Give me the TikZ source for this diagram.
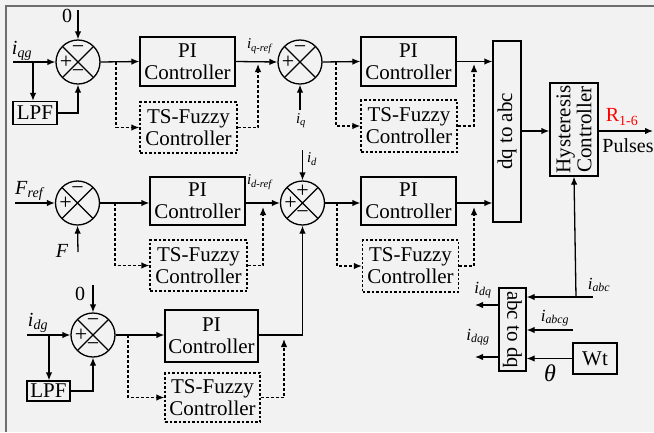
\documentclass[tikz,border=0pt]{standalone}
\usepackage{fontspec}
\setmainfont{Liberation Serif}
\usetikzlibrary{arrows.meta}
\definecolor{bgc}{HTML}{F2F2F2}
\definecolor{frm}{HTML}{6E6E6E}
\newcommand{\isym}[2]{\textit{#1}\textsubscript{\textit{#2}}}
\begin{document}
\begin{tikzpicture}[x=1pt,y=-1pt,
  line width=1.3pt,
  >={Latex[length=8pt,width=6.5pt]},
  blk/.style={draw, minimum width=95pt, minimum height=49pt, align=center,
    font=\fontsize{21}{22}\selectfont, inner sep=0pt},
  fzbox/.style={blk, dash pattern=on 2.5pt off 2pt},
  dsh/.style={dash pattern=on 3pt off 2pt},
  sumnode/.style={circle, draw, minimum size=44pt, inner sep=0pt,
    path picture={\draw (path picture bounding box.north west) -- (path picture bounding box.south east)
      (path picture bounding box.north east) -- (path picture bounding box.south west);}},
  sg/.style={font=\fontsize{22}{22}\selectfont, inner sep=0pt},
  lbl/.style={font=\fontsize{20}{20}\selectfont, inner sep=0pt},
  slbl/.style={font=\fontsize{15}{16}\selectfont, inner sep=0pt},
  mlbl/.style={font=\fontsize{17}{18}\selectfont, inner sep=0pt}
]
\useasboundingbox (0,0) rectangle (654,432);
\fill[bgc] (0,0) rectangle (654,432);
\draw[frm, line width=1.6pt] (6,432) -- (6,6) -- (654,6);

% ---------- row 1 ----------
\node[sumnode] (s1) at (78,62) {};
\node[sg] at ([yshift=-12pt]s1.center) {−};
\node[sg] at ([xshift=-12pt]s1.center) {+};
\node[sg] at ([yshift=12pt]s1.center) {−};
\node[blk, minimum width=44pt, minimum height=23pt] (lpf1) at (35,113) {LPF};
\node[blk] (pi1) at (187.5,61.5) {PI\\Controller};
\node[fzbox, minimum width=97pt, minimum height=51pt] (ts1) at (188.5,127.5) {TS-Fuzzy\\Controller};
\node[sumnode] (s2) at (300,62) {};
\node[sg] at ([xshift=-12pt]s2.center) {+};
\node[sg] at ([yshift=12pt]s2.center) {−};
\node[blk] (pi2) at (408.5,61.5) {PI\\Controller};
\node[fzbox, minimum width=96pt, minimum height=52pt] (ts2) at (409,126) {TS-Fuzzy\\Controller};
\node[draw, rotate=90, minimum width=181pt, minimum height=28pt, inner sep=0pt,
  font=\fontsize{21}{22}\selectfont] (dq) at (507,131.5) {dq to abc};
\node[draw, rotate=90, minimum width=93pt, minimum height=48pt, inner sep=0pt, align=center,
  font=\fontsize{21}{21}\selectfont] (hy) at (574,129.5) {Hysteresis\\Controller};

\node[lbl] (zero1) at (67,16) {0};
\coordinate (z1) at (78,10);
\draw[->] (z1) -- (s1.north);
\node[lbl] (iqg) at (22,51) {\isym{i}{qg}};
\coordinate (iqgin) at (13,62);
\coordinate (b1) at (33,62);
\draw[->] (iqgin) -- (s1.west);
\draw[->] (b1) -- (b1 |- lpf1.north);
\draw[->] (lpf1.east) -| (s1.south);
\coordinate (d1) at (116,62);
\draw[->] (s1.east) -- (pi1.west);
\draw[dsh,->] (d1) |- (ts1.west);
\draw[->] (pi1.east) -- (s2.west);
\node[slbl] (iqref) at (260,46) {\isym{i}{q-ref}};
\coordinate (t1) at (258,64);
\draw[dsh,->] (ts1.east) -| (t1);
\coordinate (iqin) at (300,110);
\draw[->] (iqin) -- (s2.south);
\node[slbl] (iq) at (301,121) {\isym{i}{q}};
\coordinate (d2) at (336,62);
\draw[->] (s2.east) -- (pi2.west);
\draw[dsh,->] (d2) |- (ts2.west);
\draw[->] (pi2.east) -- (pi2.east -| dq.north);
\coordinate (t2) at (474,64);
\draw[dsh,->] (ts2.east) -| (t2);
\draw[->] (dq.south |- 0,131) -- (hy.north |- 0,131);
\coordinate (pout) at (653,131);
\draw[->] (hy.south |- 0,131) -- (pout);
\node[font=\fontsize{20}{20}\selectfont, inner sep=0pt, text=red] (r16) at (622,117) {R\textsubscript{1-6}};
\node[font=\fontsize{20}{20}\selectfont, inner sep=0pt] (pul) at (628,146) {Pulses};

% ---------- row 2 ----------
\node[sumnode] (s4) at (77.5,203) {};
\node[sg] at ([xshift=-12pt]s4.center) {+};
\node[sg] at ([yshift=12pt]s4.center) {−};
\node[blk, minimum height=48pt] (pi3) at (197.5,201) {PI\\Controller};
\node[fzbox, minimum width=97pt, minimum height=51pt] (ts3) at (198.5,265.5) {TS-Fuzzy\\Controller};
\node[sumnode] (s3) at (302.5,203) {};
\node[sg] at ([yshift=-12pt]s3.center) {−};
\node[sg] at ([xshift=-12pt]s3.center) {+};
\node[sg] at ([yshift=12pt]s3.center) {+};
\node[blk, minimum height=48pt] (pi5) at (408.5,201) {PI\\Controller};
\node[fzbox, minimum width=96pt, minimum height=52pt] (ts5) at (410.5,266) {TS-Fuzzy\\Controller};

\node[lbl] (fref) at (30,191) {\isym{F}{ref}};
\coordinate (frefin) at (15,203);
\draw[->] (frefin) -- (s4.west);
\node[lbl] (fl) at (62,251) {\textit{F}};
\coordinate (fin) at (78,252);
\draw[->] (fin) -- (s4.south);
\coordinate (d3) at (115,203);
\draw[->] (s4.east) -- (pi3.west |- s4.east);
\draw[dsh,->] (d3) |- (ts3.west);
\draw[->] (pi3.east |- s3.west) -- (s3.west);
\node[slbl] (idref) at (260,182) {\isym{i}{d-ref}};
\coordinate (t3) at (263,207);
\draw[dsh,->] (ts3.east) -| (t3);
\coordinate (idin) at (302.5,150);
\draw[->] (idin) -- (s3.north);
\node[slbl] (idl) at (312,159) {\isym{i}{d}};
\coordinate (d5) at (337,203);
\draw[->] (s3.east) -- (pi5.west |- s3.east);
\draw[dsh,->] (d5) |- (ts5.west);
\draw[->] (pi5.east |- 0,203) -- (dq.north |- 0,203);
\coordinate (t5) at (474,207);
\draw[dsh,->] (ts5.east) -| (t5);

% ---------- row 3 ----------
\node[sumnode] (s5) at (93,335) {};
\node[sg] at ([yshift=-12pt]s5.center) {−};
\node[sg] at ([xshift=-12pt]s5.center) {+};
\node[sg] at ([yshift=12pt]s5.center) {−};
\node[blk, minimum width=43pt, minimum height=20pt] (lpf2) at (48.5,391) {LPF};
\node[blk, minimum width=93pt, minimum height=52pt] (pi4) at (211.5,336) {PI\\Controller};
\node[fzbox, minimum width=95pt, minimum height=49pt] (ts4) at (212.5,397.5) {TS-Fuzzy\\Controller};

\node[lbl] (zero2) at (80,294) {0};
\coordinate (z2) at (93,285);
\draw[->] (z2) -- (s5.north);
\node[lbl] (idg) at (38,323) {\isym{i}{dg}};
\coordinate (idgin) at (27,335);
\coordinate (b2) at (49,335);
\draw[->] (idgin) -- (s5.west);
\draw[->] (b2) -- (b2 |- lpf2.north);
\draw[->] (lpf2.east) -| (s5.south);
\coordinate (d4) at (128,335);
\draw[->] (s5.east) -- (pi4.west |- s5.east);
\draw[dsh,->] (d4) |- (ts4.west);
\draw[->] (pi4.east |- s5.east) -| (s3.south);
\coordinate (t4) at (284,339);
\draw[dsh,->] (ts4.east) -| (t4);

% ---------- abc to dq ----------
\node[draw, rotate=-90, minimum width=83pt, minimum height=27pt, inner sep=0pt,
  font=\fontsize{21}{22}\selectfont] (abc) at (512.5,329.5) {abc to dq};
\node[blk, minimum width=44pt, minimum height=31pt] (wt) at (595,358.5) {Wt};
\coordinate (iabcin) at (593,297);
\coordinate (iabcj) at (576,297);
\draw[->] (iabcin) -- (abc.north |- iabcin);
\draw[->] (iabcj) -- (hy.west);
\node[mlbl] (iabc) at (599,285) {\isym{i}{abc}};
\coordinate (iabcgin) at (573,330);
\draw[->] (iabcgin) -- (abc.north |- iabcgin);
\node[mlbl] (iabcg) at (555,318) {\isym{i}{abcg}};
\draw[->] (wt.west) -- (abc.north |- wt.west);
\node[font=\fontsize{24}{24}\selectfont, inner sep=0pt] (th) at (550,373) {\textit{θ}};
\coordinate (idqo) at (475,305);
\draw[->] (abc.south |- idqo) -- (idqo);
\node[mlbl] (idq) at (483,290) {\isym{i}{dq}};
\coordinate (idqgo) at (475,357);
\draw[->] (abc.south |- idqgo) -- (idqgo);
\node[mlbl] (idqg) at (478,337) {\isym{i}{dqg}};
\end{tikzpicture}
\end{document}
